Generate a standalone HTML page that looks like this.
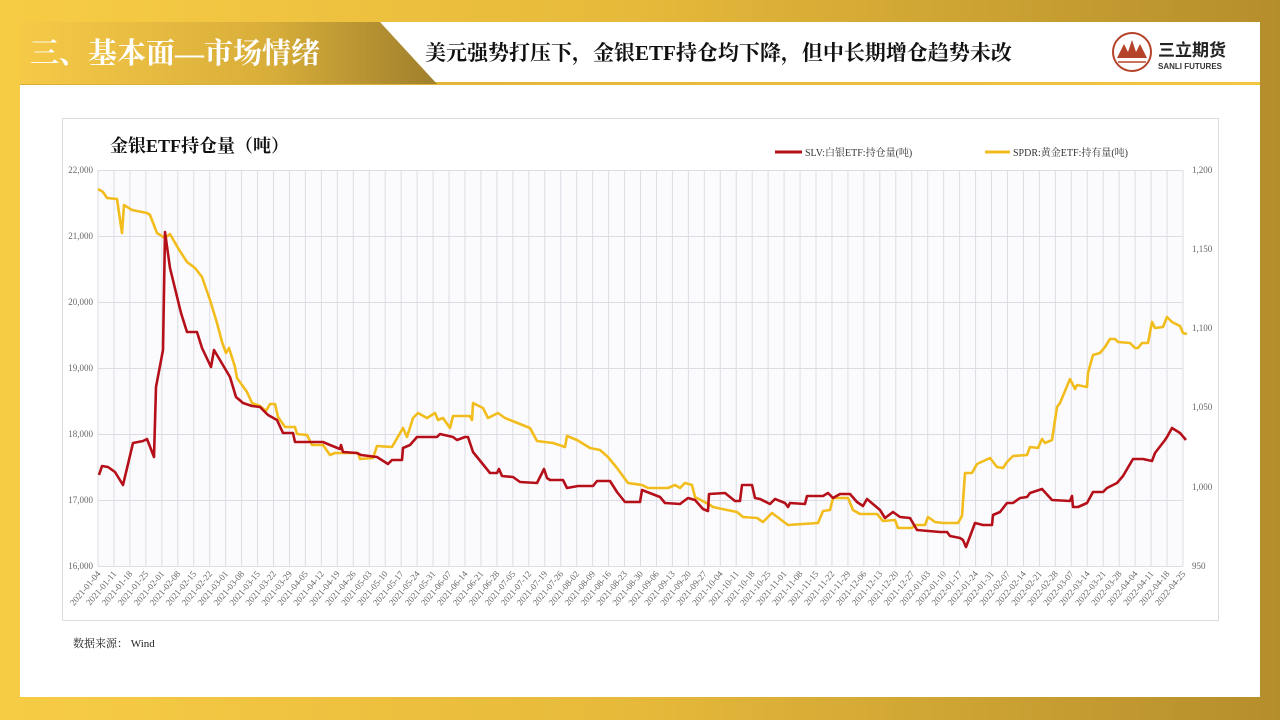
<!DOCTYPE html>
<html><head><meta charset="utf-8"><style>
body{margin:0;width:1280px;height:720px;overflow:hidden;background:linear-gradient(90deg,#f7cc45 0%,#e6b93a 50%,#b58e2c 100%);font-family:"Liberation Serif","Noto Serif CJK SC",serif;position:relative}
.panel{position:absolute;left:20px;top:22px;width:1240px;height:675px;background:#fff}
.hline{position:absolute;left:20px;top:82px;width:1240px;height:3px;background:linear-gradient(90deg,#d9ad35,#f2c640)}
</style></head><body>
<div class="panel"></div>
<div class="hline"></div>
<svg width="1280" height="720" style="position:absolute;left:0;top:0">
<defs><linearGradient id="tg" x1="0" x2="1"><stop offset="0" stop-color="#f6c947"/><stop offset="0.6" stop-color="#d8ae3a"/><stop offset="1" stop-color="#9f7f2c"/></linearGradient></defs>
<polygon points="20,22 380,22 437,84 20,84" fill="url(#tg)"/>
<text x="30" y="63" font-size="29" fill="#fff" font-weight="bold" font-family="Liberation Serif,Noto Serif CJK SC,serif">三、基本面—市场情绪</text>
<text x="425" y="60" font-size="21" fill="#111" font-weight="bold" font-family="Liberation Serif,Noto Serif CJK SC,serif">美元强势打压下，金银ETF持仓均下降，但中长期增仓趋势未改</text>
<circle cx="1132" cy="52" r="19" fill="none" stroke="#b5432a" stroke-width="2"/>
<polygon points="1117,58 1124,44 1128,52 1132,40 1136,52 1140,44 1147,58" fill="#b5432a"/>
<line x1="1118" y1="62" x2="1146" y2="62" stroke="#b5432a" stroke-width="1.5"/>
<text x="1158" y="56" font-size="17" font-weight="bold" fill="#222" font-family="Liberation Sans,Noto Sans CJK SC,sans-serif">三立期货</text>
<text x="1158" y="69" font-size="8" font-weight="bold" fill="#333" font-family="Liberation Sans,sans-serif">SANLI FUTURES</text>
<rect x="62.5" y="118.5" width="1156" height="502" fill="#fff" stroke="#ddd"/>
<text x="110" y="152" font-size="18" font-weight="bold" fill="#111" font-family="Liberation Serif,Noto Serif CJK SC,serif">金银ETF持仓量（吨）</text>
<line x1="775" y1="152" x2="802" y2="152" stroke="#b5101a" stroke-width="3"/>
<text x="805" y="156" font-size="10" fill="#333" font-family="Liberation Serif,Noto Serif CJK SC,serif">SLV:白银ETF:持仓量(吨)</text>
<line x1="985" y1="152" x2="1010" y2="152" stroke="#f0bd1e" stroke-width="3"/>
<text x="1013" y="156" font-size="10" fill="#333" font-family="Liberation Serif,Noto Serif CJK SC,serif">SPDR:黄金ETF:持有量(吨)</text>
<rect x="98" y="170" width="1085" height="396" fill="#fbfbfd"/>
<g id="grid" stroke="#dcdce4" stroke-width="1"></g>
<g id="lbl" font-size="9" fill="#666" font-family="Liberation Serif,serif"></g>
<polyline fill="none" stroke="#f2bd1c" stroke-width="2.6" stroke-linejoin="round" points="98,189 103,192 107,198 117,199 122,233 124,205 132,210 147,213 150,215 157,233 165,238 170,234 178,248 187,262 195,268 202,277 210,300 217,323 222,342 226,353 229,348 235,367 237,378 247,392 252,403 260,406 266,411 270,404 275,404 278,417 285,427 295,427 297,434 307,435 312,445 323,445 330,455 335,453 358,453 360,459 373,458 377,446 392,447 403,428 407,437 413,418 418,413 427,418 435,413 438,420 443,418 450,428 453,416 460,416 470,416 472,420 473,403 483,408 488,418 498,413 505,418 515,422 530,428 537,441 553,443 565,447 567,436 577,440 590,448 600,450 608,457 617,468 628,483 642,485 648,488 668,488 675,485 680,488 685,483 692,485 695,497 710,505 713,507 727,510 737,512 743,517 757,518 763,522 772,513 788,525 818,523 823,511 830,510 833,498 848,498 853,510 860,514 877,514 883,521 895,520 898,528 912,528 915,525 925,525 928,517 935,522 943,523 958,523 962,516 965,473 972,473 977,464 990,458 997,467 1003,468 1007,462 1013,456 1027,455 1030,447 1038,448 1042,439 1045,443 1052,440 1057,407 1060,403 1070,379 1075,389 1077,385 1087,387 1088,373 1093,355 1100,353 1105,347 1110,339 1115,339 1118,342 1130,343 1135,348 1138,348 1142,343 1148,343 1152,322 1155,328 1163,327 1167,317 1172,322 1180,326 1183,333 1187,334"/>
<polyline fill="none" stroke="#b5101a" stroke-width="2.6" stroke-linejoin="round" points="99,475 102,466 108,467 115,472 123,485 133,443 143,441 147,439 154,457 156,387 163,350 165,232 170,268 181,313 187,332 197,332 202,348 211,367 214,350 230,377 236,397 243,403 252,406 260,407 268,415 277,420 283,433 293,433 295,442 323,442 330,445 340,449 341,445 343,452 357,453 361,455 377,457 388,464 392,460 402,460 403,448 410,445 417,437 437,437 440,434 453,437 457,440 465,437 468,437 473,452 490,473 497,473 499,469 502,476 513,477 520,482 537,483 544,469 547,478 550,480 563,480 567,488 578,486 593,486 597,481 610,481 617,492 625,502 640,502 642,490 660,497 665,503 680,504 688,498 695,500 703,509 708,511 709,494 725,493 735,501 740,501 742,485 752,485 755,498 760,499 770,504 775,499 785,503 788,507 790,503 805,504 807,496 823,496 828,493 833,498 840,494 850,494 857,502 863,506 867,499 880,510 885,518 893,512 900,517 910,518 917,530 940,532 947,532 950,536 960,538 963,540 966,547 975,523 983,525 992,525 993,515 1000,512 1007,503 1013,503 1020,498 1027,497 1030,493 1042,489 1052,500 1070,501 1072,496 1073,507 1078,507 1087,503 1093,492 1103,492 1107,488 1117,483 1123,476 1133,459 1143,459 1152,461 1155,453 1165,440 1167,437 1172,428 1180,433 1186,440"/>
<g font-size="9" fill="#666" font-family="Liberation Serif,serif">
<text x="93" y="173" text-anchor="end">22,000</text>
<text x="93" y="239" text-anchor="end">21,000</text>
<text x="93" y="305" text-anchor="end">20,000</text>
<text x="93" y="371" text-anchor="end">19,000</text>
<text x="93" y="437" text-anchor="end">18,000</text>
<text x="93" y="503" text-anchor="end">17,000</text>
<text x="93" y="569" text-anchor="end">16,000</text>
<text x="1192" y="173">1,200</text>
<text x="1192" y="252">1,150</text>
<text x="1192" y="331">1,100</text>
<text x="1192" y="410">1,050</text>
<text x="1192" y="490">1,000</text>
<text x="1192" y="569">950</text>
</g>
<text x="73" y="647" font-size="11" fill="#222" font-family="Liberation Serif,Noto Serif CJK SC,serif">数据来源： Wind</text>
</svg>
<script>
var g=document.getElementById('grid'),l=document.getElementById('lbl'),ns='http://www.w3.org/2000/svg';
for(var j=0;j<7;j++){var y=170+66*j;var ln=document.createElementNS(ns,'line');ln.setAttribute('x1',98);ln.setAttribute('x2',1183);ln.setAttribute('y1',y+.5);ln.setAttribute('y2',y+.5);g.appendChild(ln);}
var d=new Date(Date.UTC(2021,0,4));
for(var i=0;i<69;i++){var x=98+i*1085/68;var ln=document.createElementNS(ns,'line');ln.setAttribute('x1',x);ln.setAttribute('x2',x);ln.setAttribute('y1',170);ln.setAttribute('y2',566);g.appendChild(ln);
var dd=new Date(d.getTime()+i*7*864e5);var s=dd.getUTCFullYear()+'-'+('0'+(dd.getUTCMonth()+1)).slice(-2)+'-'+('0'+dd.getUTCDate()).slice(-2);
var t=document.createElementNS(ns,'text');t.setAttribute('x',x+3);t.setAttribute('y',574);t.setAttribute('text-anchor','end');t.setAttribute('transform','rotate(-50 '+(x+3)+' 574)');t.textContent=s;l.appendChild(t);}
</script>
</body></html>
